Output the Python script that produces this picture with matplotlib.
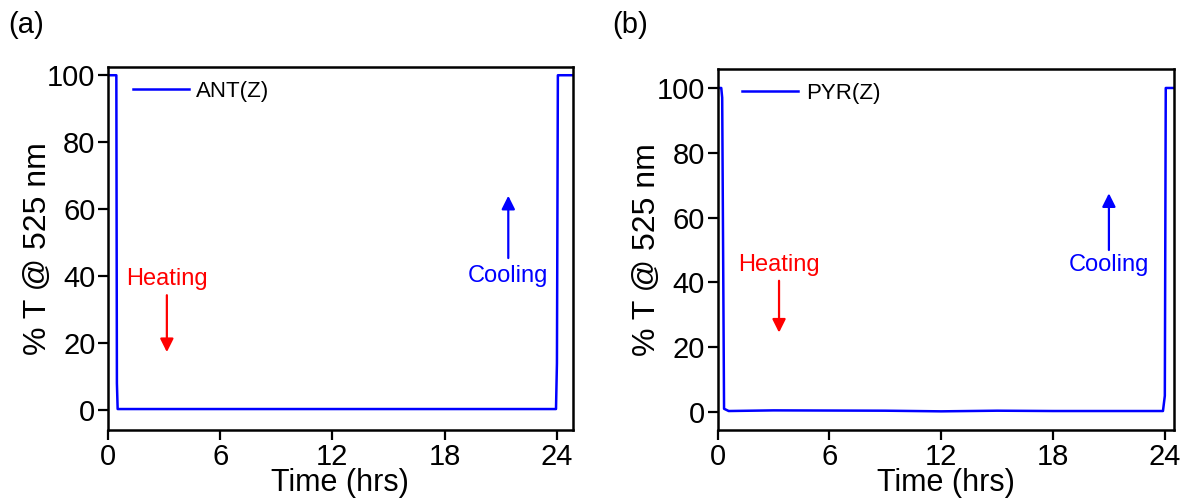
import matplotlib
matplotlib.use("Agg")
import matplotlib.pyplot as plt

plt.rcParams['font.family'] = ['Liberation Sans', 'DejaVu Sans']

# --- データ (読み取り値) ---
ant_t = [0.0, 0.45, 0.48, 0.52, 5.0, 12.0, 18.0, 23.95, 24.0, 24.05, 24.12, 24.85]
ant_T = [100.0, 100.0, 8.0, 0.3, 0.3, 0.3, 0.3, 0.3, 14.0, 100.0, 100.0, 100.0]

pyr_t = [0.0, 0.2, 0.25, 0.35, 0.6, 3.0, 9.0, 12.0, 15.0, 18.0, 23.9, 24.0, 24.05, 24.5]
pyr_T = [100.0, 100.0, 97.0, 1.0, 0.3, 0.5, 0.4, 0.2, 0.4, 0.3, 0.3, 5.0, 100.0, 100.0]

xticks = [0, 6, 12, 18, 24]
yticks = [0, 20, 40, 60, 80, 100]

fig = plt.figure(figsize=(11.86, 4.99), dpi=100)
ax1 = fig.add_axes([0.091, 0.138, 0.392, 0.728])
ax2 = fig.add_axes([0.605, 0.138, 0.385, 0.724])

panels = [
    (ax1, ant_t, ant_T, "ANT(Z)", (0, 24.85), (-6, 102.5), "(a)", 8,
     (3.15, 39.1, 34.3, 17.3), (21.4, 40.0, 45.4, 64.0)),
    (ax2, pyr_t, pyr_T, "PYR(Z)", (0, 24.5), (-5.6, 105.9), "(b)", 612,
     (3.3, 45.5, 40.5, 24.5), (21.0, 45.5, 50.0, 67.5)),
]

for ax, t, T, lab, xl, yl, tag, tagx, heat, cool in panels:
    ax.plot(t, T, color="#0000ff", lw=1.8, label=lab)
    ax.set_xlim(*xl)
    ax.set_ylim(*yl)
    ax.set_xticks(xticks)
    ax.set_yticks(yticks)
    ax.tick_params(direction="out", length=7, width=1.6, labelsize=21, pad=2)
    for s in ax.spines.values():
        s.set_linewidth(1.8)
    ax.set_xlabel("Time (hrs)", fontsize=22, labelpad=-2)
    ax.set_ylabel("% T @ 525 nm", fontsize=23, labelpad=-4)
    ax.legend(loc="upper left", frameon=False, fontsize=16,
              handlelength=2.5, handletextpad=0.35, borderaxespad=0.0,
              bbox_to_anchor=(0.035, 0.985))
    fig.text(tagx / 1186, 1 - 25 / 499, tag, fontsize=21, va="center")

    # 加熱・冷却の矢印
    hx, hy, hy0, hy1 = heat
    ax.text(hx, hy, "Heating", color="#ff0000", fontsize=17,
            ha="center", va="center")
    ax.annotate("", xy=(hx, hy1), xytext=(hx, hy0),
                arrowprops=dict(arrowstyle="-|>", color="#ff0000", lw=1.6,
                                mutation_scale=20, shrinkA=0, shrinkB=0))
    cx, cy, cy0, cy1 = cool
    ax.text(cx, cy, "Cooling", color="#0000ff", fontsize=17,
            ha="center", va="center")
    ax.annotate("", xy=(cx, cy1), xytext=(cx, cy0),
                arrowprops=dict(arrowstyle="-|>", color="#0000ff", lw=1.6,
                                mutation_scale=20, shrinkA=0, shrinkB=0))

fig.savefig("out.png", dpi=100)
